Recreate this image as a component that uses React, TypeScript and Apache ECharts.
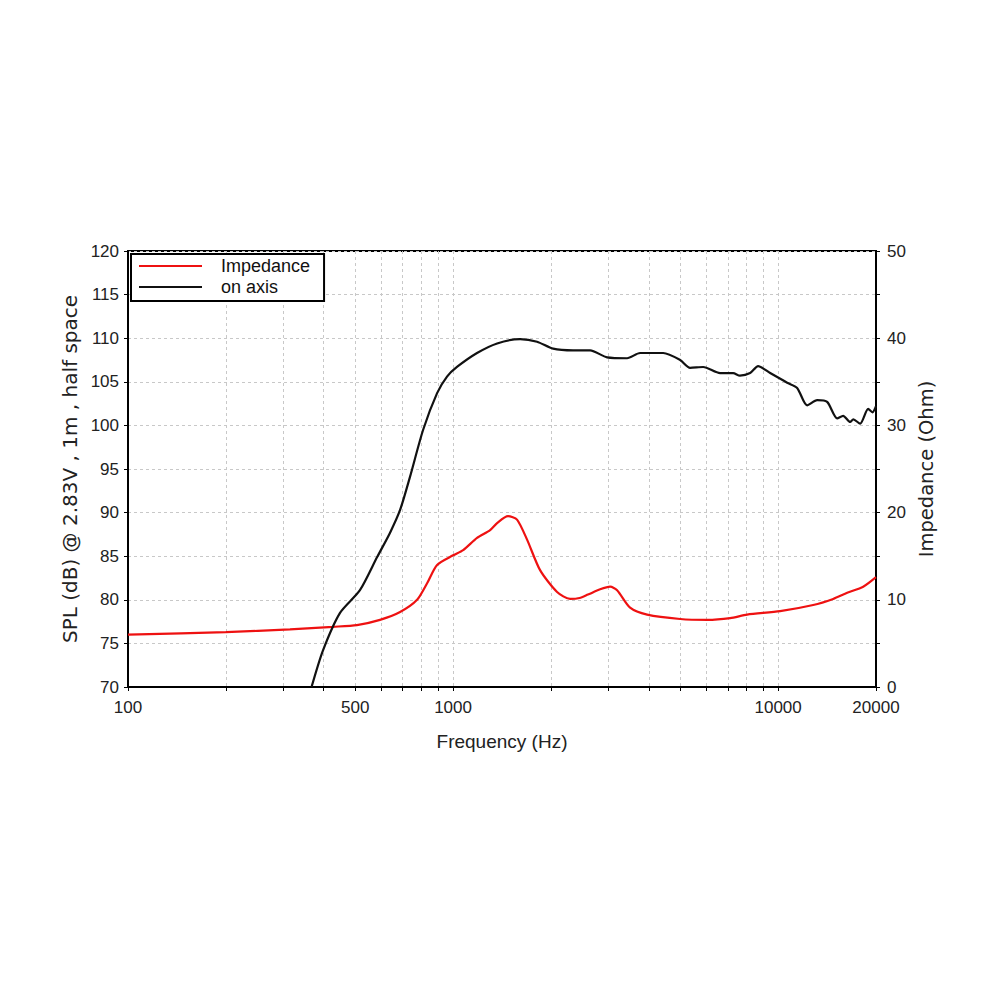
import React, { useEffect, useRef } from 'react';
import * as echarts from 'echarts';

// Impedance curve (red, right axis, Ohm)
const impedanceFreq = [100, 200, 315, 427, 506, 596, 687, 775, 832, 893, 1000, 1074, 1185, 1300, 1366, 1476, 1573, 1689, 1852, 2089, 2291, 2450, 2600, 2834, 3042, 3196, 3504, 3953, 4995, 6046, 7118, 8027, 10143, 12817, 14765, 16308, 18264, 20000];
const impedanceOhm = [6.0, 6.3, 6.6, 6.9, 7.1, 7.7, 8.6, 10.0, 11.9, 14.0, 15.1, 15.7, 17.1, 18.0, 18.8, 19.6, 19.2, 16.9, 13.4, 10.9, 10.1, 10.2, 10.6, 11.2, 11.5, 11.1, 9.1, 8.3, 7.8, 7.7, 7.9, 8.3, 8.7, 9.4, 10.1, 10.8, 11.5, 12.6];

// On-axis SPL (black, left axis, dB)
const splFreq = [367, 398, 449, 517, 584, 640, 687, 737, 809, 893, 958, 1028, 1185, 1366, 1608, 1813, 2031, 2340, 2640, 2978, 3430, 3760, 4430, 4995, 5360, 5880, 6630, 7270, 7630, 8200, 8680, 9450, 10660, 11440, 12280, 13180, 14150, 15190, 15850, 16650, 17030, 17870, 18920, 19510, 20000];
const splDb = [70.0, 74.2, 78.5, 81.1, 84.9, 87.7, 90.3, 94.1, 99.5, 103.7, 105.6, 106.7, 108.3, 109.4, 109.9, 109.6, 108.8, 108.6, 108.6, 107.8, 107.7, 108.3, 108.3, 107.5, 106.6, 106.7, 106.0, 106.0, 105.7, 106.0, 106.8, 106.0, 104.9, 104.3, 102.3, 102.9, 102.7, 100.8, 101.1, 100.4, 100.7, 100.2, 101.9, 101.5, 102.2];

// Axis ticks
const gridFreqs = [100, 200, 300, 400, 500, 600, 700, 800, 900, 1000, 2000, 3000, 4000, 5000, 6000, 7000, 8000, 9000, 10000, 20000];
const labelFreqs = [100, 500, 1000, 10000, 20000];

const seriesNames = ['Impedance', 'on axis'];

export default function App() {
  const ref = useRef<HTMLDivElement>(null);
  useEffect(() => {
    if (!ref.current) return;
    const chart = echarts.init(ref.current, undefined, { renderer: 'svg' });
    const lg = (f: number) => Math.log10(f);
    const tickFont = { fontFamily: 'Liberation Sans', fontSize: 17, color: '#222' };
    chart.setOption({
      animation: false,
      backgroundColor: '#fff',
      grid: {
        left: 128,
        right: 124,
        top: 251,
        bottom: 313,
        show: true,
        borderColor: '#000',
        borderWidth: 2,
        backgroundColor: 'transparent',
      },
      legend: {
        orient: 'vertical',
        left: 131,
        top: 254,
        backgroundColor: '#fff',
        borderColor: '#000',
        borderWidth: 2,
        borderRadius: 0,
        padding: [3, 14, 5, 8],
        icon: 'path://M0,0 L63,0 L63,2.2 L0,2.2 Z',
        itemWidth: 63,
        itemHeight: 14,
        itemGap: 3,
        textStyle: { fontFamily: 'Liberation Sans', fontSize: 18, color: '#111', padding: [0, 0, 0, 14] },
        data: seriesNames,
      },
      xAxis: {
        type: 'value',
        min: lg(100),
        max: lg(20000),
        name: 'Frequency (Hz)',
        nameLocation: 'middle',
        nameGap: 45,
        nameTextStyle: { fontFamily: 'Liberation Sans', fontSize: 19, color: '#222' },
        axisLine: { show: true, onZero: false, lineStyle: { color: '#000', width: 2 } },
        axisTick: { show: true, length: 4, lineStyle: { color: '#000' }, customValues: gridFreqs.map(lg) },
        axisLabel: {
          ...tickFont,
          margin: 12,
          customValues: labelFreqs.map(lg),
          formatter: (v: number) => String(Math.round(Math.pow(10, v))),
        },
        splitLine: { show: true, lineStyle: { color: '#c8c8c8', type: [3, 3], width: 1 } },
      },
      yAxis: [
        {
          type: 'value',
          min: 70,
          max: 120,
          interval: 5,
          position: 'left',
          name: 'SPL (dB) @ 2.83V , 1m , half space',
          nameLocation: 'middle',
          nameGap: 44,
          nameTextStyle: { fontFamily: 'DejaVu Sans', fontSize: 20, color: '#222' },
          axisLine: { show: true, lineStyle: { color: '#000', width: 2 } },
          axisTick: { show: true, length: 4, lineStyle: { color: '#000' } },
          axisLabel: { ...tickFont, margin: 9 },
          splitLine: { show: true, lineStyle: { color: '#c8c8c8', type: [3, 3], width: 1 } },
        },
        {
          type: 'value',
          min: 0,
          max: 50,
          interval: 5,
          position: 'right',
          name: 'Impedance (Ohm)',
          nameLocation: 'middle',
          nameGap: 40,
          nameRotate: 90,
          nameTextStyle: { fontFamily: 'DejaVu Sans', fontSize: 19.5, color: '#222' },
          axisLine: { show: true, lineStyle: { color: '#000', width: 2 } },
          axisTick: { show: true, length: 4, lineStyle: { color: '#000' } },
          axisLabel: {
            ...tickFont,
            margin: 11,
            formatter: (v: number) => (v % 10 === 0 ? String(v) : ''),
          },
          splitLine: { show: false },
        },
      ],
      series: [
        {
          name: seriesNames[0],
          type: 'line',
          yAxisIndex: 1,
          symbol: 'none',
          smooth: 0.25,
          lineStyle: { color: '#ee1111', width: 2.2 },
          itemStyle: { color: '#ee1111' },
          data: impedanceFreq.map((f, i) => [lg(f), impedanceOhm[i]]),
          z: 3,
        },
        {
          name: seriesNames[1],
          type: 'line',
          yAxisIndex: 0,
          symbol: 'none',
          smooth: 0.25,
          lineStyle: { color: '#111', width: 2.2 },
          itemStyle: { color: '#111' },
          data: splFreq.map((f, i) => [lg(f), splDb[i]]),
          z: 4,
        },
      ],
    });
    return () => chart.dispose();
  }, []);
  return (
    <div
      ref={ref}
      style={{ position: 'absolute', left: 0, top: 0, width: 1000, height: 1000, background: '#fff' }}
    />
  );
}
